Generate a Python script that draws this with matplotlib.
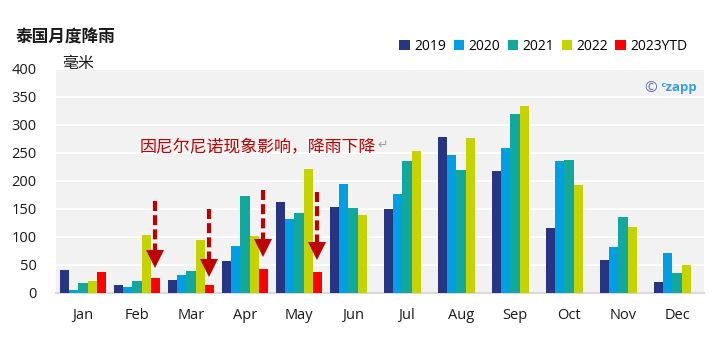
import numpy as np
import matplotlib.pyplot as plt

plt.rcParams['font.family'] = ['Open Sans', 'Noto Sans CJK SC', 'DejaVu Sans']

months = ["Jan", "Feb", "Mar", "Apr", "May", "Jun", "Jul", "Aug", "Sep", "Oct", "Nov", "Dec"]
years = ["2019", "2020", "2021", "2022", "2023YTD"]
colors = ["#283583", "#009fe3", "#13a89e", "#c5d300", "#ff0000"]

rain_2019 = [41, 14, 23, 57, 162, 153, 150, 278, 218, 116, 59, 20]
rain_2020 = [5, 11, 32, 84, 132, 195, 177, 246, 259, 235, 82, 71]
rain_2021 = [18, 21, 39, 173, 143, 152, 236, 220, 320, 237, 136, 36]
rain_2022 = [21, 104, 95, 102, 221, 139, 253, 277, 334, 193, 118, 50]
rain_2023 = [37, 27, 14, 43, 37]

# dashed arrows above the 2023 bars, Feb..May (start value, tip value)
arrow_months = [1, 2, 3, 4]
arrow_top = [164, 150, 184, 180]
arrow_tip = [50, 34, 70, 64]

series = [rain_2019, rain_2020, rain_2021, rain_2022, rain_2023]

fig = plt.figure(figsize=(7.2, 3.48), dpi=100)
ax = fig.add_axes([56 / 720, 55 / 348, 648 / 720, 224 / 348])
ax.set_facecolor("#f2f2f2")

x = np.arange(len(months))
w = 0.167
for i, (vals, c, lab) in enumerate(zip(series, colors, years)):
    xs = x[:len(vals)] + (i - 2) * w
    ax.bar(xs, vals, width=w, color=c, label=lab, zorder=3)

# arrows
red = "#c00000"
head_units = 12 * 400 / 224
for m, top, tip in zip(arrow_months, arrow_top, arrow_tip):
    xa = m + 2 * w
    ax.plot([xa, xa], [top, tip + head_units * 0.8], color=red, lw=3,
            dashes=(2.4, 1.0), solid_capstyle="butt", zorder=4)
    ax.plot(xa, tip + head_units / 2, marker="v", markersize=12.5,
            color=red, markeredgewidth=0, zorder=4)

note = ax.text(1.05, 259, "因尼尔尼诺现象影响，降雨下降", color=red, style="italic",
               fontsize=12.2, va="center", ha="left", zorder=5)
ax.annotate("↵", xy=(1, 0.5), xycoords=note, xytext=(1, 2),
            textcoords="offset points", color="#a0a0a0", fontsize=9,
            va="center", ha="left", family=["DejaVu Sans"], zorder=5)

ax.set_xlim(-0.5, 11.5)
ax.set_ylim(0, 400)
ax.set_yticks(np.arange(0, 401, 50))
ax.yaxis.grid(True, color="white", lw=1.5, zorder=1)
ax.set_axisbelow(True)
for s in ["top", "right", "left"]:
    ax.spines[s].set_visible(False)
ax.spines["bottom"].set_color("#d9d9d9")
ax.spines["bottom"].set_linewidth(1.5)
ax.set_xticks(x)
ax.set_xticklabels(months, fontsize=10.5)
ax.tick_params(axis="both", length=0, labelsize=10.5, colors="#1a1a1a")
ax.tick_params(axis="x", pad=11)
ax.tick_params(axis="y", pad=14)

fig.text(16 / 720, 1 - 38 / 348, "泰国月度降雨", fontsize=12, fontweight="bold",
         va="center", ha="left", color="#1a1a1a")
fig.text(62 / 720, 1 - 64 / 348, "毫米", fontsize=11.5, va="center", ha="left",
         color="#1a1a1a")

ax.legend(loc="lower right", bbox_to_anchor=(694 / 720, 1 - 61 / 348),
          bbox_transform=fig.transFigure, ncol=5, frameon=False, fontsize=10,
          handlelength=0.75, handleheight=0.75, handletextpad=0.3,
          columnspacing=0.55, borderpad=0)

fig.text(644 / 720, 1 - 88 / 348, "©", fontsize=11, color="#6070b0",
         va="center", ha="left")
fig.text(660 / 720, 1 - 87 / 348, "ᶜzapp", fontsize=9.5, color="#3a9fe0",
         fontweight="bold", va="center", ha="left")

fig.savefig("out.png", dpi=100)
